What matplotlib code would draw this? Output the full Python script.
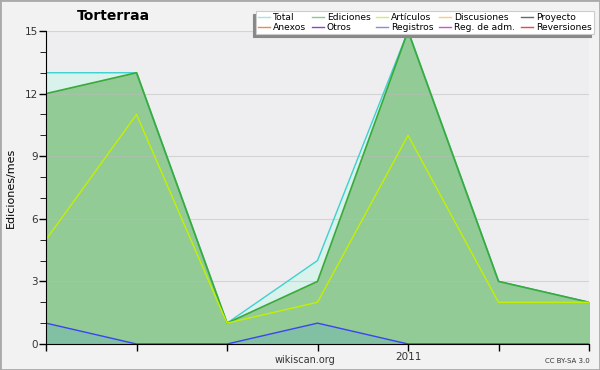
import matplotlib.pyplot as plt
from matplotlib.patches import Rectangle
from matplotlib.lines import Line2D

months = ['2010-09', '2010-10', '2010-11', '2010-12', '2011-01', '2011-02', '2011-03']
total = [13, 13, 1, 4, 15, 3, 2]
ediciones = [12, 13, 1, 3, 15, 3, 2]
articulos = [5, 11, 1, 2, 10, 2, 2]
registros = [1, 0, 0, 1, 0, 0, 0]
tick_labels = ['', '', '', '', '2011', '', '']

legend_names = ['Total', 'Anexos', 'Ediciones', 'Otros', 'Artículos', 'Registros',
                'Discusiones', 'Reg. de adm.', 'Proyecto', 'Reversiones']
legend_colors = ['#a8e4e0', '#f08848', '#88c888', '#8844d8', '#c8f070', '#8888f0',
                 '#f8d070', '#d848e8', '#686868', '#e84848']

x = list(range(len(months)))

fig = plt.figure(figsize=(6, 3.7), dpi=100, facecolor='#f2f2f2')
fig.patches.append(Rectangle((0, 0), 1, 1, transform=fig.transFigure, fill=False,
                             edgecolor='#aaaaaa', linewidth=2))
ax = fig.add_axes([46 / 600, 26 / 370, 543 / 600, 313 / 370])
ax.set_facecolor('#eeeef0')

ax.fill_between(x, total, color='#d9f2ec', zorder=1)
ax.plot(x, total, color='#40d0d0', linewidth=1, zorder=4)
ax.fill_between(x, ediciones, color='#92cb96', zorder=2)
ax.plot(x, ediciones, color='#3aaa3a', linewidth=1.2, zorder=5)
ax.plot(x, articulos, color='#c4f000', linewidth=1, zorder=6)
ax.fill_between(x, registros, color='#82c0a4', zorder=3)
ax.plot(x, registros, color='#3c44f0', linewidth=1, zorder=7)

ax.set_xlim(0, len(months) - 1)
ax.set_ylim(0, 15)
ax.set_yticks(range(0, 16, 3))
ax.set_yticks(range(0, 16), minor=True)
ax.set_xticks(x)
ax.set_xticklabels(tick_labels)
ax.tick_params(axis='both', direction='out', length=5, width=1, labelsize=7.5,
               labelcolor='#333333', pad=1)
ax.tick_params(axis='y', which='minor', length=4)
ax.grid(axis='y', color='#bbbbbb', alpha=0.5, linewidth=0.8, zorder=3.5)
ax.set_axisbelow(False)
for s in ['top', 'right']:
    ax.spines[s].set_visible(False)
ax.spines['left'].set_zorder(10)
ax.spines['bottom'].set_zorder(10)

ax.set_ylabel('Ediciones/mes', fontsize=8, labelpad=6)
fig.text(113 / 600, 1 - 16 / 370, 'Torterraa', fontsize=10, fontweight='bold',
         ha='center', va='center')
fig.text(305 / 600, 1 - 360 / 370, 'wikiscan.org', fontsize=7, ha='center', va='center',
         color='#333333')
fig.text(590 / 600, 1 - 361 / 370, 'CC BY-SA 3.0', fontsize=5, ha='right', va='center',
         color='#333333')

handles = [Line2D([], [], color=c, linewidth=1) for c in legend_colors]
leg = fig.legend(handles, legend_names, ncol=5, loc='upper right',
                 bbox_to_anchor=(594 / 600, 1 - 11 / 370), fontsize=6.6,
                 frameon=True, fancybox=False, handlelength=1.3, handletextpad=0.35,
                 columnspacing=0.6, labelspacing=0.05, borderpad=0.25,
                 borderaxespad=0,
                 shadow={'ox': -2, 'oy': -2, 'color': '#888888', 'alpha': 1})
leg.get_frame().set_edgecolor('#cccccc')
leg.get_frame().set_linewidth(0.8)
leg.set_zorder(20)

fig.savefig('out.png', dpi=100, facecolor=fig.get_facecolor())
